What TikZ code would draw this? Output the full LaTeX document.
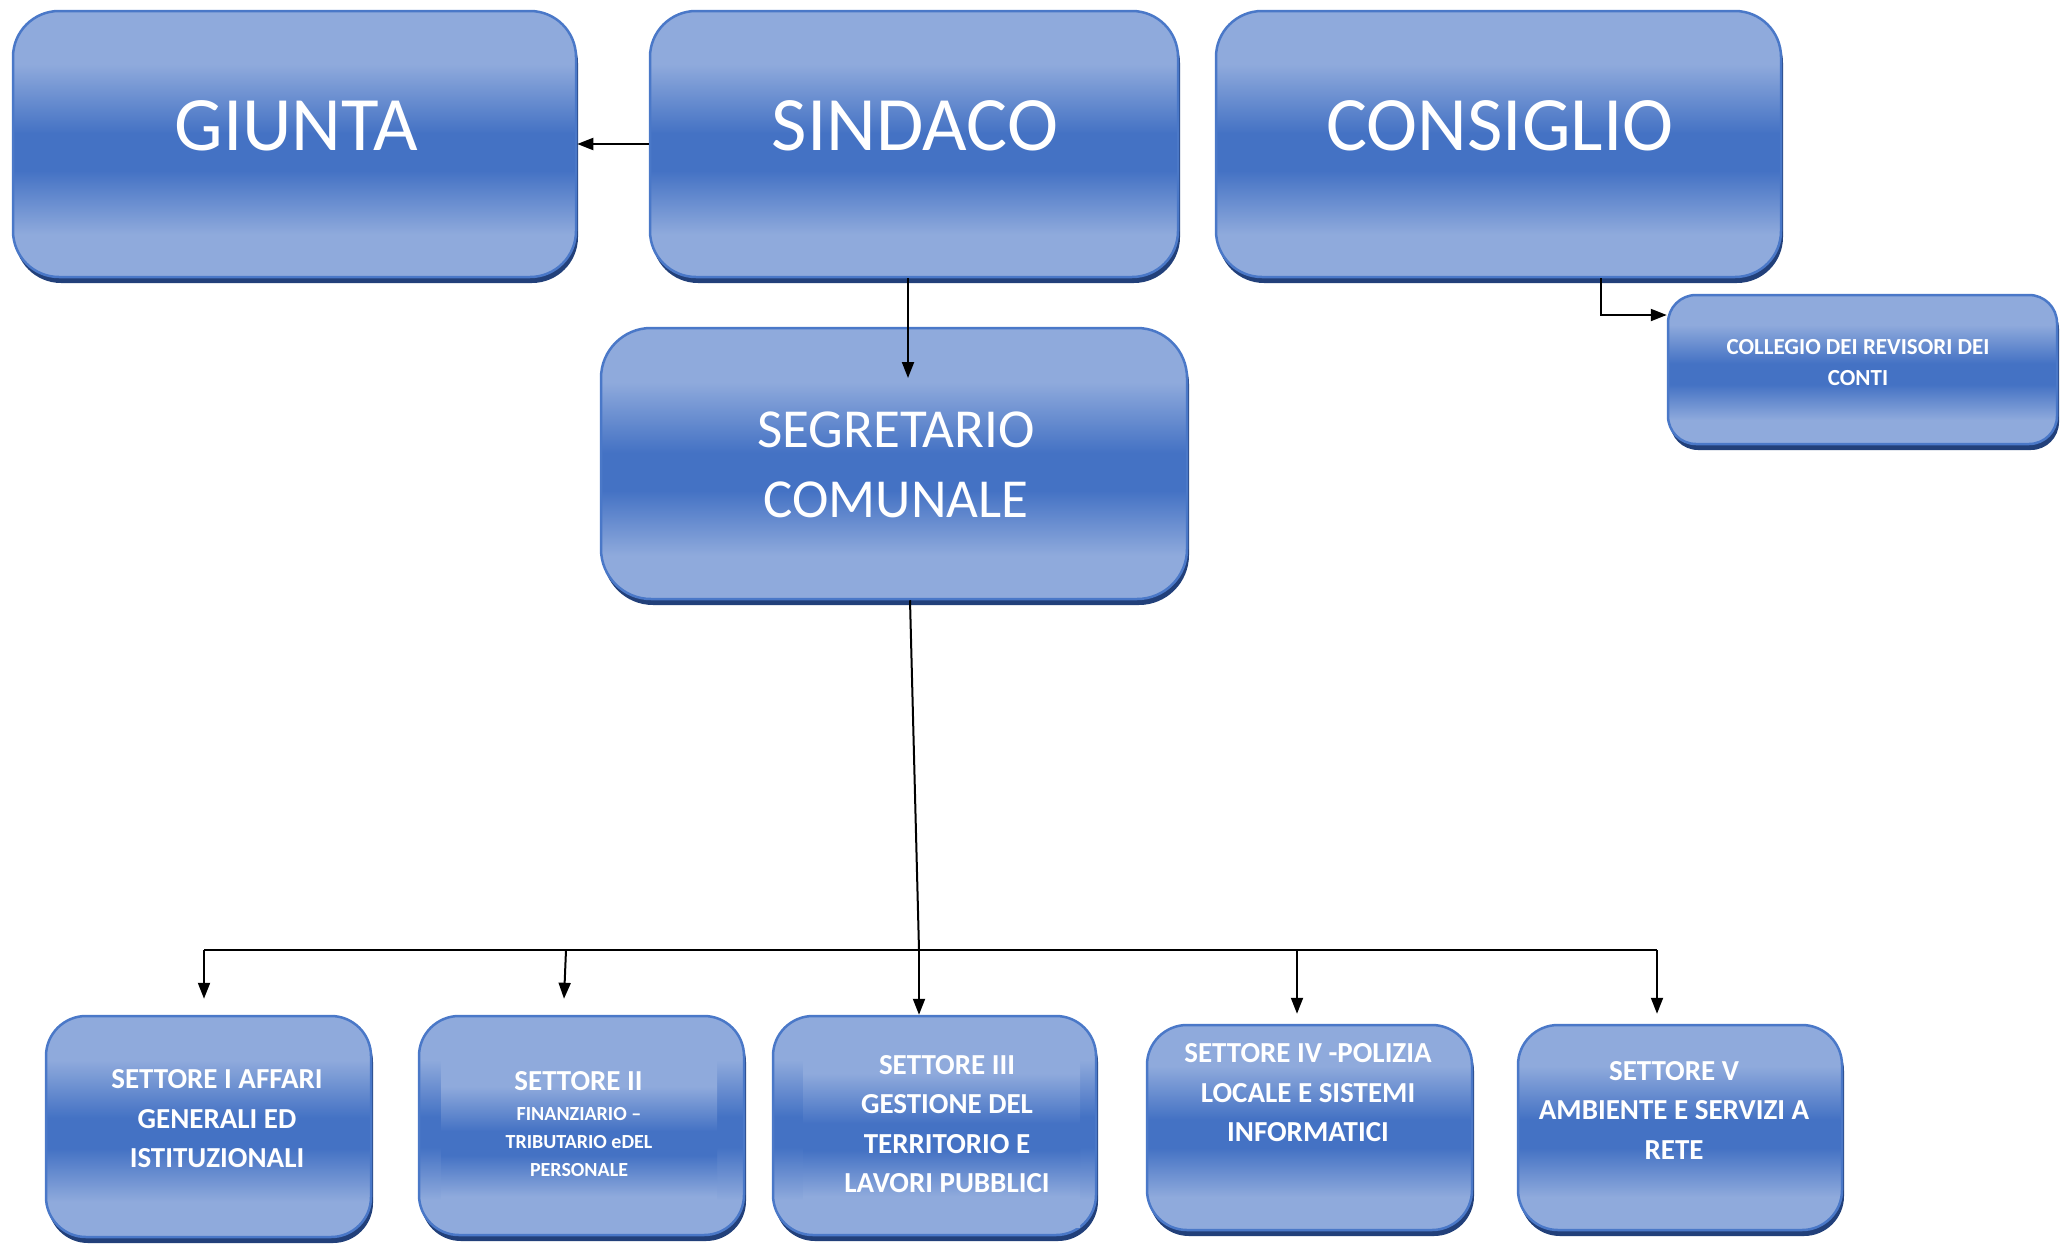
\documentclass[tikz,border=0pt]{standalone}
\usepackage{fontspec}
\setmainfont{Carlito}
\usetikzlibrary{arrows.meta,shadows}
\definecolor{lightB}{HTML}{8FAADC}
\definecolor{darkB}{HTML}{4472C4}
\definecolor{boxline}{HTML}{4A78C8}
\definecolor{boxshadow}{HTML}{22407A}
\pgfdeclareverticalshading{boxshade}{100bp}{color(0bp)=(lightB); color(33bp)=(lightB); color(45bp)=(darkB); color(52bp)=(darkB); color(65bp)=(lightB); color(100bp)=(lightB)}
\tikzset{
  orgbox/.style={rectangle, rounded corners=#1, draw=boxline, line width=2.5pt,
    shade, shading=boxshade, inner sep=0pt,
    drop shadow={shadow xshift=2pt, shadow yshift=-6pt, fill=boxshadow, opacity=1}},
  orgbox/.default=40pt,
  innerbox/.style={rectangle, shade, shading=boxshade, inner sep=0pt},
  biglbl/.style={text=white, inner sep=0pt, font=\fontsize{77}{90}\selectfont},
  midlbl/.style={text=white, inner sep=0pt, align=center, font=\fontsize{55}{70}\selectfont},
  smlbl/.style={text=white, inner sep=0pt, align=center, font=\fontsize{23}{31}\selectfont\bfseries},
  setlbl/.style={text=white, inner sep=0pt, align=center, font=\fontsize{29}{39.5}\selectfont\bfseries},
  tinylbl/.style={text=white, inner sep=0pt, align=center, font=\fontsize{20}{28.3}\selectfont\bfseries},
  wire/.style={draw=black, line width=2pt},
  conn/.style={wire, -{Triangle[length=16pt,width=12pt]}}
}
\begin{document}
\begin{tikzpicture}[x=1pt,y=-1pt]
\useasboundingbox (0,0) rectangle (2064,1245);
% top row
\node[orgbox=46pt, minimum width=563pt, minimum height=266pt] (giunta) at (294.5,144) {};
\node[orgbox=46pt, minimum width=528pt, minimum height=266pt] (sindaco) at (914,144) {};
\node[orgbox=46pt, minimum width=565pt, minimum height=266pt] (consiglio) at (1498.5,144) {};
\node[biglbl] (giunta-l) at (296,126) {GIUNTA};
\node[biglbl] (sindaco-l) at (915,126) {SINDACO};
\node[biglbl] (consiglio-l) at (1500,126) {CONSIGLIO};
% segretario
\node[orgbox=50pt, minimum width=586pt, minimum height=271pt] (segr) at (894,463.5) {};
\node[midlbl] (segr-l) at (896,465) {SEGRETARIO\\COMUNALE};
% collegio
\node[orgbox=28pt, minimum width=389pt, minimum height=149pt] (collegio) at (1862.5,369.5) {};
\node[smlbl] (collegio-l) at (1858,362.5) {COLLEGIO DEI REVISORI DEI\\CONTI};
% settori
\node[orgbox=40pt, minimum width=325pt, minimum height=221pt] (s1) at (208.5,1126.5) {};
\node[orgbox=40pt, minimum width=325pt, minimum height=219pt] (s2) at (581.5,1125.5) {};
\node[innerbox, minimum width=276pt, minimum height=172pt] (s2in) at (579,1138) {};
\node[orgbox=40pt, minimum width=323pt, minimum height=219pt] (s3) at (934.5,1125.5) {};
\node[innerbox, minimum width=277pt, minimum height=192pt] (s3in) at (941.5,1131) {};
\node[orgbox=40pt, minimum width=325pt, minimum height=205pt] (s4) at (1309.5,1127.5) {};
\node[orgbox=40pt, minimum width=324pt, minimum height=205pt] (s5) at (1680,1127.5) {};
\node[setlbl] (s1-l) at (217,1119) {SETTORE I AFFARI\\GENERALI ED\\ISTITUZIONALI};
\node[setlbl] (s2-l) at (578.5,1081) {SETTORE II};
\node[tinylbl] (s2-s) at (579,1142) {FINANZIARIO –\\TRIBUTARIO eDEL\\PERSONALE};
\node[setlbl] (s3-l) at (947,1124) {SETTORE III\\GESTIONE DEL\\TERRITORIO E\\LAVORI PUBBLICI};
\node[setlbl] (s4-l) at (1308,1093) {SETTORE IV -POLIZIA\\LOCALE E SISTEMI\\INFORMATICI};
\node[setlbl] (s5-l) at (1674,1110) {SETTORE V\\AMBIENTE E SERVIZI A\\RETE};
% connectors
\draw[conn] (sindaco.west) -- (giunta.east);
\coordinate (segtop) at (908,378);
\draw[conn] (sindaco.south -| segtop) -- (segtop);
\coordinate (colturn) at (1601,315);
\draw[conn] (consiglio.south -| colturn) -- (colturn) -- (collegio.west |- colturn);
\coordinate (busc) at (919,950);
\coordinate (busl) at (204,950);
\coordinate (busr) at (1657,950);
\coordinate (bus2) at (566,950);
\coordinate (bus4) at (1297,950);
\draw[wire] (segr.south -| 910,0) -- (busc);
\draw[wire] (busl) -- (busr);
\draw[conn] (busl) -- ([yshift=16pt]s1.north -| busl);
\draw[conn] (bus2) -- ([yshift=16pt]s2.north -| 564,0);
\draw[conn] (busc) -- (s3.north -| busc);
\draw[conn] (bus4) -- ([yshift=10pt]s4.north -| bus4);
\draw[conn] (busr) -- ([yshift=10pt]s5.north -| busr);
\end{tikzpicture}
\end{document}
